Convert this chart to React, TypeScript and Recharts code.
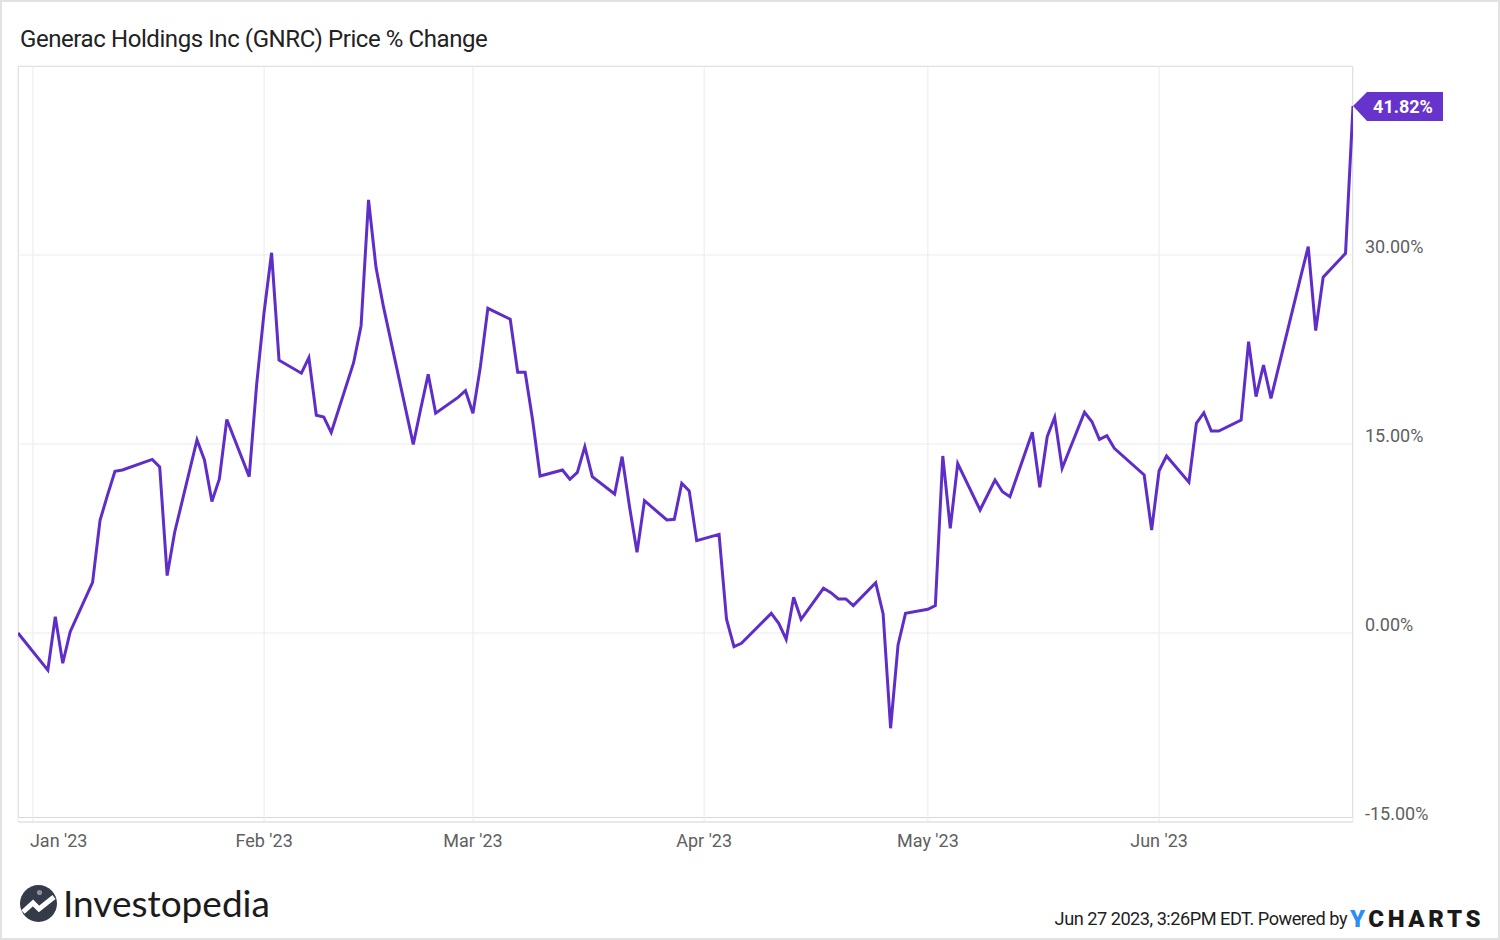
import React from "react";
import { LineChart, Line, XAxis, YAxis, CartesianGrid, LabelList } from "recharts";

const DATES = [
  "2022-12-30",
  "2023-01-03", "2023-01-04", "2023-01-05", "2023-01-06",
  "2023-01-09", "2023-01-10", "2023-01-11", "2023-01-12", "2023-01-13",
  "2023-01-17", "2023-01-18", "2023-01-19", "2023-01-20",
  "2023-01-23", "2023-01-24", "2023-01-25", "2023-01-26", "2023-01-27",
  "2023-01-30", "2023-01-31", "2023-02-01", "2023-02-02", "2023-02-03",
  "2023-02-06", "2023-02-07", "2023-02-08", "2023-02-09", "2023-02-10",
  "2023-02-13", "2023-02-14", "2023-02-15", "2023-02-16", "2023-02-17",
  "2023-02-21", "2023-02-22", "2023-02-23", "2023-02-24",
  "2023-02-27", "2023-02-28", "2023-03-01", "2023-03-02", "2023-03-03",
  "2023-03-06", "2023-03-07", "2023-03-08", "2023-03-09", "2023-03-10",
  "2023-03-13", "2023-03-14", "2023-03-15", "2023-03-16", "2023-03-17",
  "2023-03-20", "2023-03-21", "2023-03-22", "2023-03-23", "2023-03-24",
  "2023-03-27", "2023-03-28", "2023-03-29", "2023-03-30", "2023-03-31",
  "2023-04-03", "2023-04-04", "2023-04-05", "2023-04-06",
  "2023-04-10", "2023-04-11", "2023-04-12", "2023-04-13", "2023-04-14",
  "2023-04-17", "2023-04-18", "2023-04-19", "2023-04-20", "2023-04-21",
  "2023-04-24", "2023-04-25", "2023-04-26", "2023-04-27", "2023-04-28",
  "2023-05-01", "2023-05-02", "2023-05-03", "2023-05-04", "2023-05-05",
  "2023-05-08", "2023-05-09", "2023-05-10", "2023-05-11", "2023-05-12",
  "2023-05-15", "2023-05-16", "2023-05-17", "2023-05-18", "2023-05-19",
  "2023-05-22", "2023-05-23", "2023-05-24", "2023-05-25", "2023-05-26",
  "2023-05-30", "2023-05-31", "2023-06-01", "2023-06-02",
  "2023-06-05", "2023-06-06", "2023-06-07", "2023-06-08", "2023-06-09",
  "2023-06-12", "2023-06-13", "2023-06-14", "2023-06-15", "2023-06-16",
  "2023-06-20", "2023-06-21", "2023-06-22", "2023-06-23",
  "2023-06-26", "2023-06-27",
];

const PRICE_CHANGE = [
  0,
  -2.95, 1.29, -2.4, 0.1,
  4.02, 8.94, 10.94, 12.83, 12.94,
  13.78, 13.18, 4.56, 7.98,
  15.32, 13.73, 10.44, 12.22, 16.95,
  12.41, 19.74, 25.48, 30.18, 21.65,
  20.62, 21.85, 17.28, 17.14, 15.91,
  21.45, 24.39, 34.37, 29.02, 25.9,
  14.97, 17.8, 20.53, 17.44,
  18.7, 19.23, 17.44, 21.14, 25.77,
  24.9, 20.69, 20.69, 16.9, 12.46,
  12.94, 12.2, 12.75, 14.79, 12.41,
  11.03, 14.0, 10.0, 6.4, 10.5,
  8.97, 9.02, 11.88, 11.27, 7.33,
  7.83, 1.09, -1.08, -0.82,
  1.56, 0.77, -0.5, 2.83, 1.09,
  3.55, 3.2, 2.7, 2.7, 2.17,
  3.99, 1.51, -7.56, -0.95, 1.56,
  1.88, 2.17, 14.05, 8.31, 13.45,
  9.76, 10.95, 12.14, 11.21, 10.82,
  15.93, 11.56, 15.58, 17.12, 13.07,
  17.52, 16.77, 15.37, 15.66, 14.66,
  12.54, 8.17, 12.88, 14.05,
  11.96, 16.64, 17.48, 16.03, 16.03,
  16.9, 23.12, 18.76, 21.27, 18.62,
  28.3, 30.66, 24.0, 28.23,
  30.13, 41.82,
];

const X_TICKS = [0, 31, 59, 90, 120, 151];
const X_TICK_LABELS = ["Jan '23", "Feb '23", "Mar '23", "Apr '23", "May '23", "Jun '23"];
const Y_TICKS = [-15, 0, 15, 30];

const LINE_COLOR = "#5f2ec8";
const FONT = "Roboto, 'Noto Sans', sans-serif";

const ORIGIN = Date.parse("2023-01-01T00:00:00Z");
const data = DATES.map((s, i) => ({
  d: Math.round((Date.parse(s + "T00:00:00Z") - ORIGIN) / 86400000),
  v: PRICE_CHANGE[i],
}));

const XTick = (props: any) => {
  const { x, y, payload } = props;
  const idx = X_TICKS.indexOf(payload.value);
  const label = X_TICK_LABELS[idx] ?? "";
  const first = idx === 0;
  return (
    <text
      x={first ? x - 3 : x}
      y={y + 17}
      textAnchor={first ? "start" : "middle"}
      fontFamily={FONT}
      fontSize={18}
      fill="#606060"
    >
      {label}
    </text>
  );
};

const YTick = (props: any) => {
  const { x, y, payload } = props;
  return (
    <text x={x + 4} y={y - 2} textAnchor="start" fontFamily={FONT} fontSize={18} fill="#606060">
      {payload.value.toFixed(2) + "%"}
    </text>
  );
};

const LastLabel = (props: any) => {
  const { x, y, value, index } = props;
  if (index !== data.length - 1) return null;
  const tipX = x;
  const boxL = x + 14;
  const boxR = x + 90;
  const top = y - 14;
  const bot = y + 15;
  return (
    <g>
      <polygon
        points={`${tipX},${y} ${boxL},${top} ${boxR},${top} ${boxR},${bot} ${boxL},${bot}`}
        fill="#6633cc"
      />
      <text
        x={(boxL + boxR) / 2 - 2}
        y={y + 7}
        textAnchor="middle"
        fontFamily={FONT}
        fontWeight={700}
        fontSize={18}
        fill="#ffffff"
      >
        {Number(value).toFixed(2) + "%"}
      </text>
    </g>
  );
};

export default function App() {
  return (
    <div
      style={{
        position: "absolute",
        left: 0,
        top: 0,
        width: 1500,
        height: 940,
        boxSizing: "border-box",
        border: "2px solid #e2e2e2",
        background: "#ffffff",
        overflow: "hidden",
      }}
    >
      <div
        style={{
          position: "absolute",
          left: 16,
          top: 64,
          width: 1335,
          height: 752,
          boxSizing: "border-box",
          border: "1px solid #d8d8d8",
        }}
      />
      <div style={{ position: "absolute", left: -2, top: -2 }}>
        <LineChart width={1500} height={940} data={data} margin={{ top: 66, right: 67, bottom: 88, left: 18 }}>
          <CartesianGrid stroke="#ebebeb" strokeWidth={1} />
          <XAxis
            type="number"
            dataKey="d"
            domain={[-2, 177]}
            ticks={X_TICKS}
            interval={0}
            height={30}
            axisLine={{ stroke: "#dddddd" }}
            tickLine={false}
            tick={<XTick />}
            allowDataOverflow
          />
          <YAxis
            orientation="right"
            width={80}
            domain={[-15, 45]}
            ticks={Y_TICKS}
            interval={0}
            axisLine={false}
            tickLine={false}
            tick={<YTick />}
            allowDataOverflow
          />
          <Line
            type="linear"
            dataKey="v"
            stroke={LINE_COLOR}
            strokeWidth={3}
            dot={false}
            activeDot={false}
            isAnimationActive={false}
          >
            <LabelList dataKey="v" content={LastLabel} />
          </Line>
        </LineChart>
      </div>
      <svg
        width={1500}
        height={940}
        style={{ position: "absolute", left: -2, top: -2, pointerEvents: "none" }}
      >
        <text x={20} y={47} fontFamily={FONT} fontSize={24} letterSpacing={-0.42} fill="#222222">
          Generac Holdings Inc (GNRC) Price % Change
        </text>
        <g>
          <circle cx={38.5} cy={903.5} r={18.5} fill="#363b49" />
          <polyline
            points="23,912 33,903 39,909 54,897"
            fill="none"
            stroke="#ffffff"
            strokeWidth={5}
            strokeLinejoin="miter"
          />
          <circle cx={39.5} cy={892.5} r={2.6} fill="#8a8f99" />
        </g>
        <text x={63} y={917} fontFamily="Lato, 'Noto Sans', sans-serif" fontSize={37} fill="#1c1c1c">
          Investopedia
        </text>
        <text x={1347} y={925} textAnchor="end" fontFamily={FONT} fontSize={18.2} letterSpacing={-0.5} fill="#1e1e1e">
          Jun 27 2023, 3:26PM EDT. Powered by
        </text>
        <text x={1350} y={927} fontFamily={FONT} fontWeight={900} fontSize={24} letterSpacing={3.6} fill="#1a1a1a">
          <tspan fill="#2a8ff0">Y</tspan>CHARTS
        </text>
      </svg>
    </div>
  );
}
